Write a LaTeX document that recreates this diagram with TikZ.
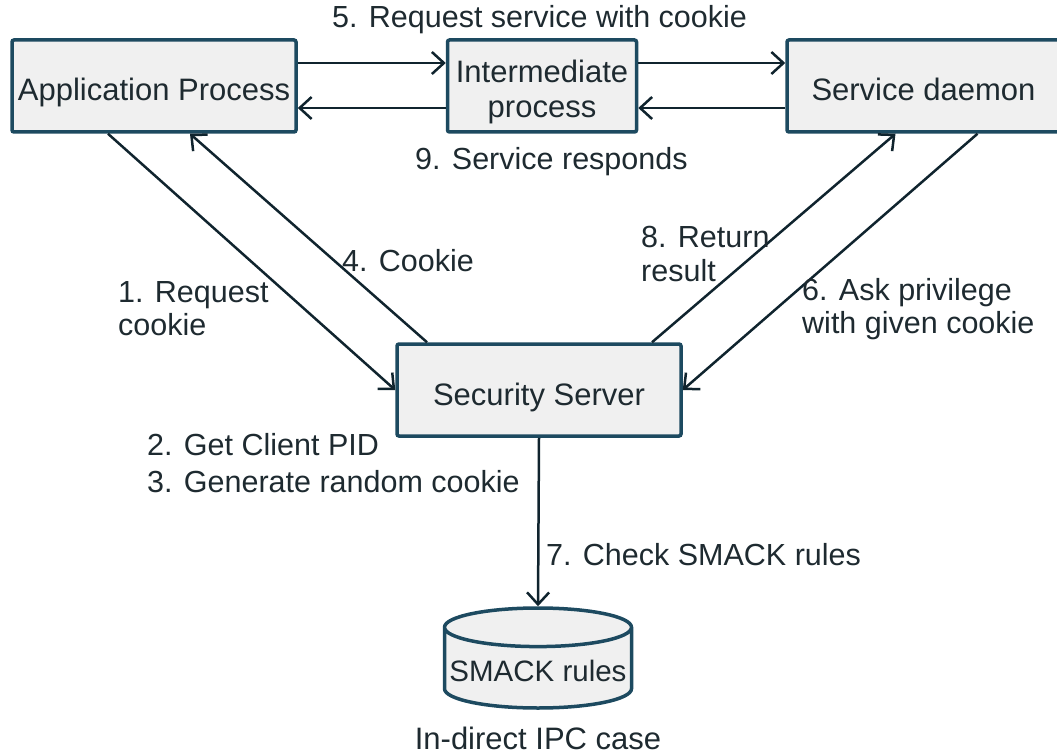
\documentclass[tikz,border=0pt]{standalone}
\usepackage{fontspec}
\setmainfont{Liberation Sans}
\usetikzlibrary{positioning, arrows.meta, shapes.geometric}
\definecolor{kLine}{HTML}{1D4A60}
\definecolor{kFill}{HTML}{F0F0F0}
\definecolor{kArrow}{HTML}{10242E}
\definecolor{kText}{HTML}{1E2A30}

\begin{document}
\begin{tikzpicture}[x=1pt, y=-1pt, >={Straight Barb[length=12pt,width=22pt]},
      font=\fontsize{31}{35}\selectfont, text=kText,
      box/.style={draw=kLine, fill=kFill, line width=3.5pt, rounded corners=2pt,
        minimum height=92pt, align=center, text height=30pt, text depth=0pt},
      lbl/.style={inner sep=0pt, anchor=west, align=left,
        font=\fontsize{30.5}{33}\selectfont},
      link/.style={->, draw=kArrow, line width=2.5pt}]
  \useasboundingbox (0,0) rectangle (1057,754);
  % top row
  \node[box, minimum width=284pt] (app) at (154,86) {Application Process};
  \node[box, minimum width=189pt, right=148pt of app, text height=64pt] (inter) {Intermediate\\process};
  \node[box, minimum width=273pt, right=147pt of inter] (serv) {Service daemon};
  % middle and bottom
  \node[box, minimum width=284pt] (sec) at (539,390) {Security Server};
  \node[draw=kLine, fill=kFill, line width=3.5pt, cylinder, shape border rotate=90,
        shape aspect=0.21, minimum width=187pt, minimum height=100pt,
        font=\fontsize{29.5}{35}\selectfont, anchor=shape center] (smack) at (538,658) {SMACK rules};
  \node[font=\fontsize{31}{35}\selectfont, inner sep=0pt, anchor=base] (cap) at (538,749) {In-direct IPC case};
  % connectors
  \draw[link] ([yshift=23pt]app.east) -- ([yshift=23pt]inter.west);
  \draw[link] ([yshift=-22pt]inter.west) -- ([yshift=-22pt]app.east);
  \draw[link] ([yshift=23pt]inter.east) -- ([yshift=23pt]serv.west);
  \draw[link] ([yshift=-22pt]serv.west) -- ([yshift=-22pt]inter.east);
  \draw[link] ([xshift=-46pt]app.south) -- (sec.west);
  \draw[link] ([xshift=-112pt]sec.north) -- ([xshift=36pt]app.south);
  \draw[link] ([xshift=113pt]sec.north) -- ([xshift=-28pt]serv.south);
  \draw[link] ([xshift=54pt]serv.south) -- (sec.east);
  \draw[link] (sec.south) -- (smack.north);
  % labels
  \node[lbl] (l5) at (332,20) {5. Request service with cookie};
  \node[lbl] (l9) at (415,162) {9. Service responds};
  \node[lbl] (l4) at (342,261) {4. Cookie};
  \node[lbl] (l1) at (118,309) {1. Request\\cookie};
  \node[lbl] (l8) at (641,254) {8. Return\\result};
  \node[lbl] (l6) at (802,309) {6. Ask privilege\\with given cookie};
  \node[lbl, font=\fontsize{30.5}{37}\selectfont] (l2) at (147,463) {2. Get Client PID\\3. Generate random cookie};
  \node[lbl] (l7) at (546,555) {7. Check SMACK rules};
\end{tikzpicture}
\end{document}
